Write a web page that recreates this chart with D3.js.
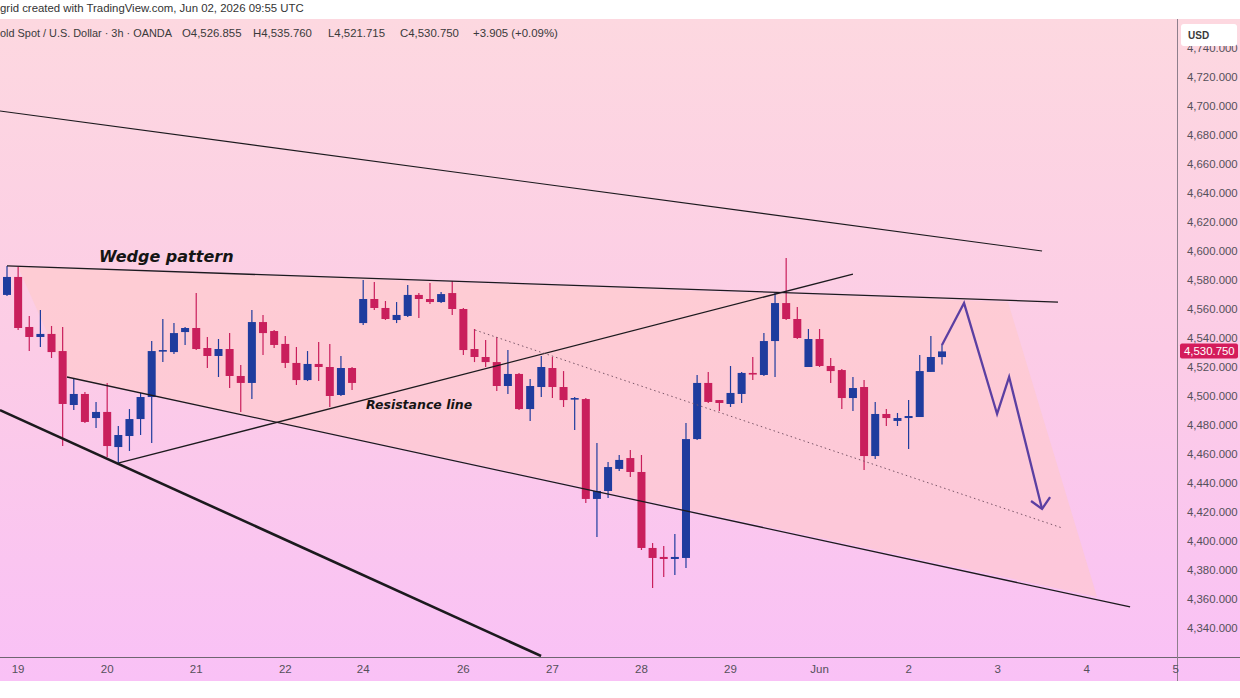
<!DOCTYPE html>
<html>
<head>
<meta charset="utf-8">
<script src="https://cdn.jsdelivr.net/npm/d3@7"></script>
<style>
body { margin: 0; background: #fff; }
svg { display: block; font-family: "Liberation Sans", Arial, sans-serif; }
</style>
</head>
<body>
<div id="chart"></div>
<script>
// XAU/USD 3h candles. index 0 = first full candle on the left
var firstIndex = -1;

var opens = [4547, 4569.7, 4582.1, 4547.6, 4540.7, 4542.8, 4531.0, 4493.8, 4501.4, 4484.8,
  4489.0, 4464.8, 4472.4, 4484.1, 4499.3, 4531.0, 4530.3, 4544.1, 4546.9, 4533.1,
  4527.6, 4532.4, 4513.8, 4509.0, 4551.0, 4544.8, 4535.9, 4522.8, 4511.0, 4522.1,
  4520.0, 4500.7, 4519.3, 4550.3, 4566.9, 4560.7, 4552.4, 4555.2, 4569.7, 4566.9,
  4564.8, 4571.0, 4560.0, 4532.4, 4526.9, 4523.4, 4506.9, 4515.2, 4491.0, 4506.2,
  4519.3, 4506.2, 4497.9, 4497.9, 4429.0, 4434.5, 4449.7, 4457.2, 4447.6, 4395.2,
  4389.0, 4387.6, 4388.3, 4470.3, 4509.0, 4497.2, 4494.5, 4501.4, 4515.9, 4514.5,
  4537.9, 4564.1, 4553.1, 4520.0, 4539.3, 4520.7, 4517.9, 4498.6, 4506.2, 4458.6,
  4487.6, 4482.8, 4484.8, 4485.5, 4516.6, 4526.855];

var highs = [4569, 4589.7, 4589.0, 4555.2, 4559.3, 4548.3, 4547.6, 4512.4, 4502.8, 4495.9,
  4509.0, 4479.3, 4491.0, 4502.1, 4537.9, 4553.1, 4550.3, 4547.6, 4571.0, 4540.7,
  4539.3, 4543.4, 4521.4, 4559.3, 4555.9, 4545.5, 4541.4, 4533.8, 4531.0, 4537.2,
  4535.9, 4527.6, 4520.0, 4580.0, 4578.6, 4565.5, 4564.8, 4576.6, 4571.0, 4577.9,
  4571.7, 4579.3, 4560.7, 4546.2, 4538.6, 4540.7, 4531.7, 4515.9, 4511.7, 4527.6,
  4526.9, 4517.2, 4499.3, 4498.6, 4467.6, 4454.5, 4459.3, 4462.8, 4459.3, 4398.6,
  4396.6, 4404.8, 4481.4, 4514.5, 4516.6, 4497.2, 4520.7, 4516.6, 4526.9, 4543.4,
  4571.0, 4595.2, 4561.4, 4546.2, 4546.2, 4526.2, 4518.6, 4513.1, 4511.0, 4495.9,
  4491.0, 4488.3, 4497.2, 4528.3, 4541.4, 4535.76];

var lows = [4545, 4569.0, 4545.5, 4531.0, 4533.8, 4526.2, 4465.5, 4490.3, 4481.4, 4477.9,
  4457.9, 4453.8, 4462.1, 4473.1, 4467.6, 4523.4, 4529.0, 4535.2, 4531.7, 4519.3,
  4513.1, 4505.5, 4489.0, 4497.9, 4528.3, 4533.1, 4519.3, 4507.6, 4510.3, 4510.3,
  4492.4, 4500.0, 4504.1, 4549.0, 4559.3, 4552.4, 4550.3, 4554.5, 4553.8, 4563.4,
  4564.1, 4555.9, 4528.3, 4523.4, 4520.0, 4503.4, 4501.4, 4490.3, 4482.8, 4499.3,
  4498.6, 4492.4, 4476.6, 4426.2, 4402.8, 4429.7, 4448.3, 4444.1, 4393.8, 4367.6,
  4375.2, 4376.6, 4381.4, 4469.7, 4495.2, 4489.7, 4492.4, 4495.2, 4511.0, 4513.8,
  4513.1, 4552.4, 4539.3, 4520.0, 4520.0, 4509.0, 4491.0, 4489.7, 4449.0, 4456.6,
  4479.3, 4479.3, 4463.4, 4485.5, 4516.6, 4521.715];

var closes = [4566, 4582.1, 4546.9, 4540.7, 4542.8, 4530.3, 4494.5, 4501.4, 4482.1, 4489.0,
  4465.5, 4473.1, 4484.1, 4499.3, 4531.0, 4531.7, 4543.4, 4546.9, 4532.4, 4527.6,
  4532.4, 4513.8, 4509.0, 4551.0, 4543.4, 4535.2, 4522.8, 4511.0, 4522.1, 4520.0,
  4500.0, 4519.3, 4509.0, 4566.9, 4560.7, 4553.1, 4555.9, 4569.7, 4566.9, 4564.8,
  4570.3, 4560.0, 4531.7, 4526.9, 4523.4, 4506.9, 4515.2, 4491.0, 4506.9, 4520.0,
  4506.2, 4497.2, 4498.6, 4429.0, 4434.5, 4451.0, 4455.9, 4447.6, 4395.2, 4388.3,
  4387.6, 4389.0, 4470.3, 4509.0, 4495.9, 4495.2, 4502.1, 4515.9, 4515.2, 4537.9,
  4564.1, 4553.1, 4540.0, 4539.3, 4520.7, 4517.2, 4498.6, 4505.5, 4458.6, 4487.6,
  4484.8, 4484.8, 4486.2, 4517.2, 4526.9, 4530.75];

// date ticks sit on candle indexes
var tickIndex = [1, 9, 17, 25, 32, 41, 49, 57, 65, 73, 81, 89, 97, 105];
var tickLabels = ["19", "20", "21", "22", "24", "26", "27", "28", "29", "Jun", "2", "3", "4", "5"];
var priceTicks = d3.range(4340, 4741, 20);
var lastPrice = 4530.75;

// legend pieces (symbol title, then OHLC + change)
var legendTitle = "old Spot / U.S. Dollar \u00b7 3h \u00b7 OANDA";
var legendValues = ["O4,526.855", "H4,535.760", "L4,521.715", "C4,530.750", "+3.905 (+0.09%)"];
var legendX = [182, 253, 328, 400, 473];

// drawings, as [candle index, price]
var upperLine = [[-0.63, 4696.6], [92.99, 4600.0]];
var wedgeTop = [[0, 4589.7], [94.42, 4564.8]];
var resistance = [[10.06, 4453.8], [76.0, 4584.1]];
var channelLow = [[5.39, 4513.1], [100.9, 4354.5]];
var support = [[-0.63, 4490.3], [47.98, 4320.7]];
var dotted = [[42.05, 4545.5], [94.79, 4409.0]];
var wedgeArea = [[0.99, 4589.0], [89.93, 4564.8], [97.93, 4361.4], [5.39, 4513.1]];
var forecast = [[84, 4535.2], [85.98, 4564.1], [88.95, 4487.6], [90.03, 4513.1], [92.99, 4422.1]];
var arrowHead = [[92.0, 4427.6], [92.99, 4422.1], [93.71, 4430.3]];
var wedgeLabel = {text: "Wedge pattern", at: [8.27, 4592.4]};
var resistLabel = {text: "Resistance line", at: [32.25, 4491.0]};

var svgWidth = 1240;
var svgHeight = 698;
var plotTop = 19, plotBottom = 657, plotRight = 1177, bandBottom = 681;

var svg = d3.select("#chart").append("svg")
  .attr("width", svgWidth)
  .attr("height", svgHeight);

var defs = svg.append("defs");
var grad = defs.append("linearGradient").attr("id", "bg")
  .attr("x1", 0).attr("y1", 0).attr("x2", 0).attr("y2", 1);
grad.append("stop").attr("offset", "0%").attr("stop-color", "#fdd8e0");
grad.append("stop").attr("offset", "50%").attr("stop-color", "#fccce6");
grad.append("stop").attr("offset", "100%").attr("stop-color", "#f9c1f6");

defs.append("clipPath").attr("id", "plotClip")
  .append("rect").attr("x", 0).attr("y", plotTop)
  .attr("width", plotRight).attr("height", plotBottom - plotTop);

svg.append("rect")
  .attr("x", 0).attr("y", plotTop)
  .attr("width", svgWidth).attr("height", bandBottom - plotTop)
  .attr("fill", "url(#bg)");

var x = d3.scaleLinear().domain([0, 84]).range([7, 942]);
var y = d3.scaleLinear().domain([4340, 4720]).range([628, 77]);

var candles = opens.map(function(o, k) {
  return {i: firstIndex + k, o: o, h: highs[k], l: lows[k], c: closes[k]};
});

var plot = svg.append("g").attr("clip-path", "url(#plotClip)");

var line = d3.line().x(d => x(d[0])).y(d => y(d[1]));

// shaded wedge
plot.append("path")
  .attr("d", line(wedgeArea) + "Z")
  .attr("fill", "#ffc9c4")
  .attr("fill-opacity", 0.5);

// candles
var up = "#1f3c9e", down = "#c91f5c";
var cg = plot.selectAll(".candle").data(candles).enter().append("g");
cg.append("line")
  .attr("x1", d => x(d.i)).attr("x2", d => x(d.i))
  .attr("y1", d => y(d.h)).attr("y2", d => y(d.l))
  .attr("stroke", d => d.c >= d.o ? up : down)
  .attr("stroke-width", 1.2);
cg.append("rect")
  .attr("x", d => x(d.i) - 4)
  .attr("width", 8)
  .attr("y", d => y(Math.max(d.o, d.c)))
  .attr("height", d => Math.max(1.6, Math.abs(y(d.o) - y(d.c))))
  .attr("fill", d => d.c >= d.o ? up : down);

// trend lines
[[upperLine, 1.1], [wedgeTop, 1.3], [resistance, 1.3], [channelLow, 1.3], [support, 2.6]].forEach(function(p) {
  plot.append("path").attr("d", line(p[0]))
    .attr("fill", "none").attr("stroke", "#1c1a1e").attr("stroke-width", p[1]);
});
plot.append("path").attr("d", line(dotted))
  .attr("fill", "none").attr("stroke", "#7a5668")
  .attr("stroke-width", 1).attr("stroke-dasharray", "1.5,3");

plot.append("path").attr("d", line(forecast))
  .attr("fill", "none").attr("stroke", "#5b3fa2")
  .attr("stroke-width", 2.3).attr("stroke-linejoin", "miter");
plot.append("path").attr("d", line(arrowHead))
  .attr("fill", "none").attr("stroke", "#5b3fa2")
  .attr("stroke-width", 2.3);

[[wedgeLabel, 16], [resistLabel, 12.5]].forEach(function(p) {
  plot.append("text")
    .attr("x", x(p[0].at[0])).attr("y", y(p[0].at[1]))
    .attr("font-family", "'DejaVu Sans', Verdana, sans-serif")
    .attr("font-weight", "bold").attr("font-style", "italic")
    .attr("font-size", p[1]).attr("fill", "#151515")
    .text(p[0].text);
});

// axes lines
svg.append("line").attr("x1", 0).attr("x2", svgWidth)
  .attr("y1", plotBottom + 0.5).attr("y2", plotBottom + 0.5)
  .attr("stroke", "#6e6670");
svg.append("line").attr("x1", plotRight + 0.5).attr("x2", plotRight + 0.5)
  .attr("y1", plotTop).attr("y2", bandBottom)
  .attr("stroke", "#8e7f8c");

// price axis
svg.append("g").selectAll("text").data(priceTicks).enter().append("text")
  .attr("x", 1187).attr("y", d => y(d))
  .attr("dy", "0.35em")
  .attr("font-size", 11.4).attr("fill", "#55505a")
  .text(d3.format(",.3f"));

svg.append("rect").attr("x", 1181).attr("y", 24).attr("width", 56).attr("height", 22)
  .attr("rx", 3).attr("fill", "#fff");
svg.append("text").attr("x", 1188).attr("y", 39)
  .attr("font-size", 10).attr("font-weight", "bold").attr("fill", "#3a3a3a").text("USD");

svg.append("rect").attr("x", 1180).attr("y", y(lastPrice) - 8).attr("width", 58).attr("height", 15)
  .attr("rx", 2).attr("fill", "#d41c5b");
svg.append("text").attr("x", 1184).attr("y", y(lastPrice))
  .attr("dy", "0.35em").attr("font-size", 11.4).attr("fill", "#fff")
  .text(d3.format(",.3f")(lastPrice));

// date axis
svg.append("g").selectAll("text").data(tickIndex).enter().append("text")
  .attr("x", d => x(d)).attr("y", 669)
  .attr("dy", "0.35em").attr("text-anchor", "middle")
  .attr("font-family", "'Liberation Sans Narrow', 'Liberation Sans', sans-serif")
  .attr("font-size", 11.5).attr("fill", "#55505a")
  .text((d, k) => tickLabels[k]);

// header texts
svg.append("text").attr("x", 0).attr("y", 12)
  .attr("font-size", 11.4).attr("fill", "#333")
  .text("grid created with TradingView.com, Jun 02, 2026 09:55 UTC");

var legend = svg.append("text").attr("y", 37)
  .attr("font-size", 11.4).attr("fill", "#3a3a3a");
legend.append("tspan").attr("x", 0).attr("font-size", 10.9).text(legendTitle);
legendValues.forEach(function(v, k) {
  legend.append("tspan").attr("x", legendX[k]).text(v);
});
</script>
</body>
</html>
